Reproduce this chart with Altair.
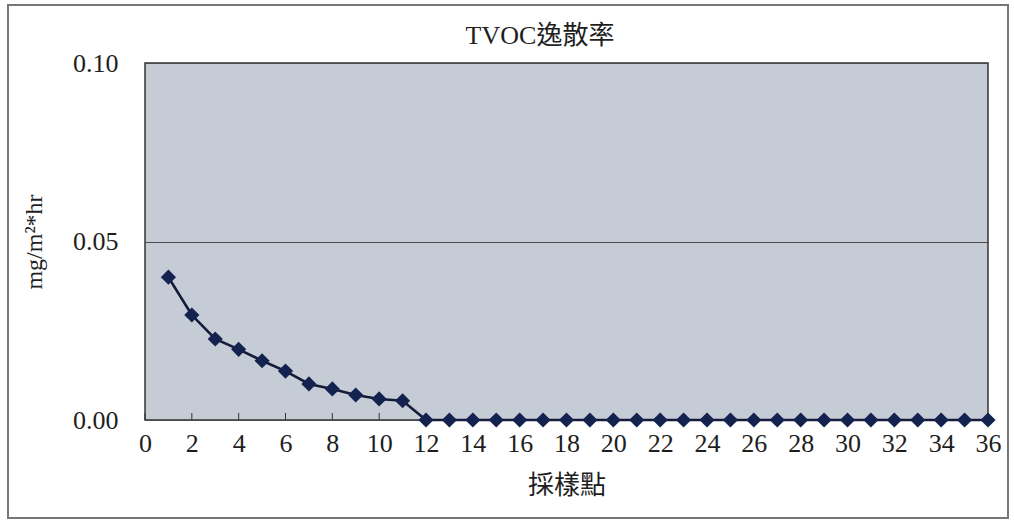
import altair as alt
import pandas as pd

# Sampling points and TVOC emission rate (mg/m2*hr)
points = list(range(1, 37))
rates = [0.040, 0.0294, 0.0227, 0.0198, 0.0166, 0.0137, 0.0101, 0.0087, 0.0070,
         0.0059, 0.0054] + [0.0] * 25
x_ticks = list(range(0, 37, 2))
y_ticks = [0.0, 0.05, 0.10]
chart_title = "TVOC逸散率"

df = pd.DataFrame({"point": points, "rate": rates})
ticks_df = pd.DataFrame({"t": x_ticks})
title_df = pd.DataFrame({"label": [chart_title]})

serif = "Times New Roman, Liberation Serif, DejaVu Serif, Noto Sans CJK TC, serif"
W, H = 843, 357

x_scale = alt.Scale(domain=[0, 36], nice=False, zero=False)
y_scale = alt.Scale(domain=[0, 0.10], nice=False)

x_axis = alt.Axis(values=x_ticks, format="d", title="採樣點", tickSize=0,
                  labelFont=serif, labelFontSize=26, labelColor="#1e1e1e",
                  labelPadding=10, titleFont="Noto Sans CJK TC", titleFontSize=26,
                  titleFontWeight="normal", titleColor="#1e1e1e", titlePadding=16,
                  grid=False, domain=False, labelFlush=False)
y_axis = alt.Axis(values=y_ticks, format=".2f", title="mg/m²*hr", tickSize=0,
                  labelFont=serif, labelFontSize=26, labelColor="#1e1e1e",
                  labelPadding=27, titleFont=serif, titleFontSize=24,
                  titleFontWeight="normal", titleColor="#1e1e1e", titlePadding=26,
                  grid=True, gridColor="#4a4a4a", gridWidth=1.2, domain=False,
                  labelFlush=False)

# outer frame around the whole figure
frame = alt.Chart(df).mark_rect(fill=None, stroke="#777", strokeWidth=1.5, clip=False).encode(
    x=alt.value(-137), x2=alt.value(863), y=alt.value(-58), y2=alt.value(455)
)

# chart heading
heading = alt.Chart(title_df).mark_text(font=serif, fontSize=26, color="#1e1e1e",
                                        align="center", baseline="middle").encode(
    text="label:N", x=alt.value(395), y=alt.value(-27)
)

# inward-pointing x ticks
tick_marks = alt.Chart(ticks_df).mark_rule(color="#333", strokeWidth=1).encode(
    x=alt.X("t:Q", scale=x_scale, axis=x_axis),
    y=alt.value(H - 7), y2=alt.value(H),
)

line = alt.Chart(df).mark_line(color="#151b38", strokeWidth=2.6).encode(
    x=alt.X("point:Q", scale=x_scale, axis=x_axis),
    y=alt.Y("rate:Q", scale=y_scale, axis=y_axis),
)
pts = alt.Chart(df).mark_point(shape="diamond", filled=True, size=230,
                               color="#14224f", opacity=1, clip=False).encode(
    x=alt.X("point:Q", scale=x_scale),
    y=alt.Y("rate:Q", scale=y_scale),
)

chart = alt.layer(frame, heading, tick_marks, line, pts).properties(
    width=W, height=H,
    autosize=alt.AutoSizeParams(type="none"),
    padding={"left": 145, "top": 63, "right": 26, "bottom": 106},
    background="white",
).configure_view(
    fill="#c5ccd6", stroke="#333", strokeWidth=1.5
)

chart.save("out.html", embed_options={"renderer": "svg", "actions": False})
